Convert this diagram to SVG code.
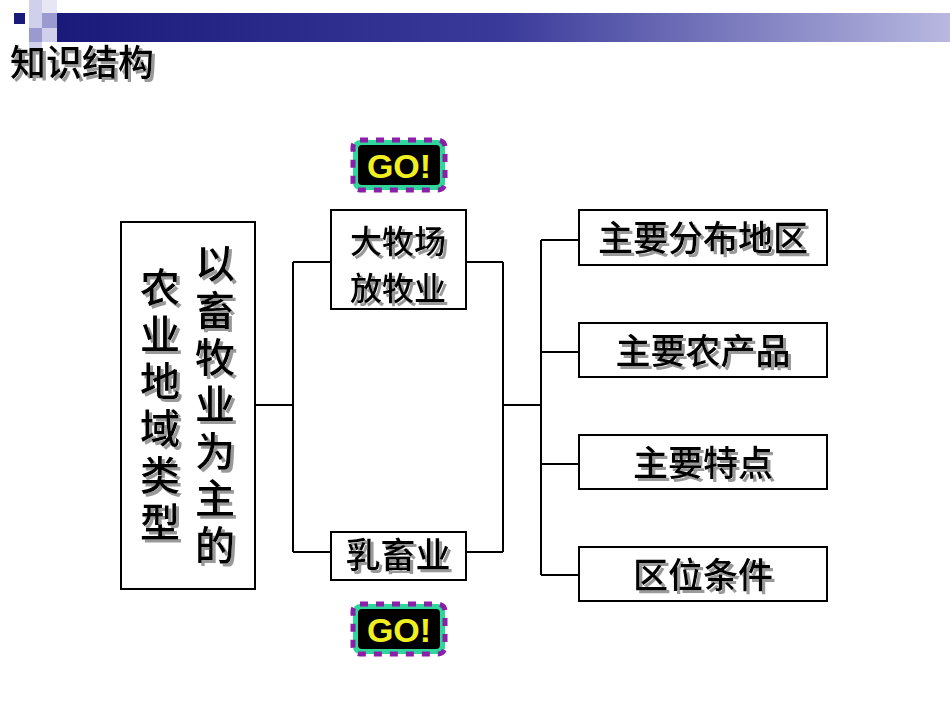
<svg xmlns="http://www.w3.org/2000/svg" width="950" height="713" viewBox="0 0 950 713">
<defs>
<linearGradient id="bar" x1="0" x2="1" y1="0" y2="0"><stop offset="0" stop-color="#1a1a7a"/><stop offset="0.5" stop-color="#3a3a9a"/><stop offset="1" stop-color="#b8b8e0"/></linearGradient>
<filter id="sh" x="-10%" y="-10%" width="130%" height="130%"><feDropShadow dx="3" dy="3" stdDeviation="0.5" flood-color="#999"/></filter>
<g id="go">
<rect x="0" y="0" width="92" height="50" rx="7" fill="#2fd79a"/>
<rect x="0" y="0" width="92" height="50" rx="7" fill="none" stroke="#8a1fa8" stroke-width="5" stroke-dasharray="8 8"/>
<rect x="5" y="5" width="82" height="40" rx="4" fill="#000"/>
<text x="46" y="38" text-anchor="middle" font-family="Liberation Sans, sans-serif" font-weight="bold" font-size="34" fill="#f0f020">GO!</text>
</g>
</defs>
<style>
.t{font-family:"Noto Sans CJK SC",sans-serif;font-weight:500;fill:#000;filter:url(#sh)}
.v{font-size:40px;writing-mode:vertical-rl;letter-spacing:7px}
.b{fill:#fff;stroke:#000;stroke-width:2}
.c{fill:none;stroke:#000;stroke-width:2}
</style>
<rect width="950" height="713" fill="#fff"/>
<g id="header">
<rect x="57" y="13" width="893" height="29" fill="url(#bar)"/>
<rect x="14" y="13" width="11" height="11" fill="#1a1a7a"/>
<rect x="29" y="0" width="13" height="13" fill="#d0d0ec"/>
<rect x="42" y="0" width="15" height="13" fill="#e6e6f4"/>
<rect x="29" y="13" width="13" height="15" fill="#d0d0ec"/>
<rect x="42" y="13" width="15" height="15" fill="#9a9ad0"/>
<rect x="29" y="28" width="13" height="14" fill="#9a9ad0"/>
<rect x="42" y="28" width="15" height="14" fill="#d0d0ec"/>
<rect x="29" y="42" width="13" height="13" fill="#d0d0ec"/>
<text class="t" x="10" y="76" font-size="36">知识结构</text>
</g>
<use href="#go" x="353" y="140"/>
<use href="#go" x="353" y="604"/>
<g id="connectors">
<path class="c" d="M255 405H293M293 262V552M293 262H331M293 552H331M466 262H503M466 552H503M503 262V552M503 405H541M541 240V575M541 240H579M541 352H579M541 464H579M541 575H579"/>
</g>
<g id="main">
<rect class="b" x="121" y="222" width="134" height="367"/>
<text class="t v" x="215" y="243">以畜牧业为主的</text>
<text class="t v" x="160" y="267">农业地域类型</text>
</g>
<g id="n1"><rect class="b" x="331" y="210" width="135" height="99"/><text class="t" font-size="32" text-anchor="middle" x="398" y="253">大牧场</text><text class="t" font-size="32" text-anchor="middle" x="398" y="300">放牧业</text></g>
<g id="n2"><rect class="b" x="331" y="532" width="135" height="48"/><text class="t" font-size="35" text-anchor="middle" x="398" y="568">乳畜业</text></g>
<g id="r1"><rect class="b" x="579" y="210" width="248" height="55"/><text class="t" font-size="35" text-anchor="middle" x="703" y="251">主要分布地区</text></g>
<g id="r2"><rect class="b" x="579" y="323" width="248" height="54"/><text class="t" font-size="35" text-anchor="middle" x="703" y="364">主要农产品</text></g>
<g id="r3"><rect class="b" x="579" y="435" width="248" height="54"/><text class="t" font-size="35" text-anchor="middle" x="703" y="476">主要特点</text></g>
<g id="r4"><rect class="b" x="579" y="547" width="248" height="54"/><text class="t" font-size="35" text-anchor="middle" x="703" y="588">区位条件</text></g>
</svg>
